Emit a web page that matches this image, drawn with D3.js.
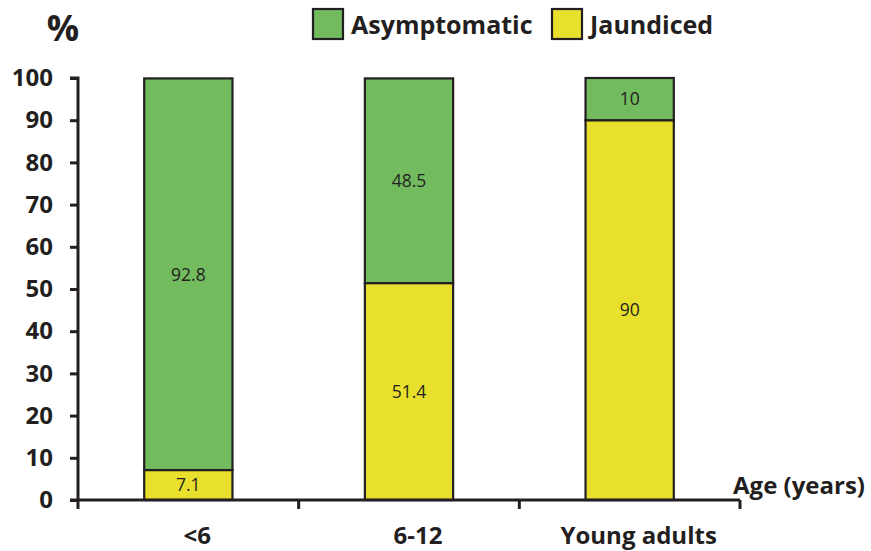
<!DOCTYPE html>
<html>
<head>
<meta charset="utf-8">
<script src="https://cdn.jsdelivr.net/npm/d3@7"></script>
<style>
  html, body { margin: 0; padding: 0; background: #fff; }
  svg { display: block; font-family: "Open Sans", "Noto Sans", sans-serif; }
</style>
</head>
<body>
<svg id="chart" width="871" height="551"></svg>
<script>
// Age groups and share of each clinical presentation (%)
const categories = ["<6", "6-12", "Young adults"];
const jaundiced = [7.1, 51.4, 90];
const asymptomatic = [92.8, 48.5, 10];
const yTicks = [0, 10, 20, 30, 40, 50, 60, 70, 80, 90, 100];
const seriesNames = ["Asymptomatic", "Jaundiced"];
const seriesColors = ["#72bb5f", "#e8e02c"];

const svg = d3.select("#chart");
const x0 = 78, x1 = 740, yBottom = 500, yTop = 78;
const ink = "#231f20";

const x = d3.scaleBand().domain(categories).range([x0, x1]).padding(0);
const y = d3.scaleLinear().domain([0, 100]).range([yBottom, yTop]);
const barW = x.bandwidth() * 0.4;

// stacked layout: jaundiced at the bottom, asymptomatic on top
const rows = categories.map((c, i) => ({ cat: c, Jaundiced: jaundiced[i], Asymptomatic: asymptomatic[i] }));
const stack = d3.stack().keys(["Jaundiced", "Asymptomatic"]);
const layers = stack(rows);
const colorOf = d3.scaleOrdinal().domain(seriesNames).range(seriesColors);

const g = svg.append("g");
layers.forEach(layer => {
  const grp = g.append("g");
  grp.selectAll("rect").data(layer).join("rect")
    .attr("x", d => x(d.data.cat) + (x.bandwidth() - barW) / 2)
    .attr("width", barW)
    .attr("y", d => y(d[1]))
    .attr("height", d => y(d[0]) - y(d[1]))
    .attr("fill", colorOf(layer.key))
    .attr("stroke", ink)
    .attr("stroke-width", 2.2);
  grp.selectAll("text").data(layer).join("text")
    .attr("x", d => x(d.data.cat) + x.bandwidth() / 2)
    .attr("y", d => y((d[0] + d[1]) / 2))
    .attr("dy", "0.36em")
    .attr("text-anchor", "middle")
    .attr("font-size", 17.5)
    .attr("fill", ink)
    .text(d => d.data[layer.key]);
});

// y axis
const yAxis = d3.axisLeft(y).tickValues(yTicks).tickSize(8).tickPadding(17).tickSizeOuter(0);
const ya = svg.append("g").attr("transform", `translate(${x0},0)`).call(yAxis);
ya.select(".domain").attr("stroke", ink).attr("stroke-width", 3)
  .attr("d", `M-8,${yTop}H0V${yBottom}`);
ya.selectAll(".tick line").attr("stroke", ink).attr("stroke-width", 3);
ya.selectAll(".tick text").attr("font-size", 24).attr("font-weight", 700)
  .attr("fill", ink).attr("font-family", "'Open Sans', sans-serif");

// x axis with ticks at band boundaries
const xa = svg.append("g").attr("transform", `translate(0,${yBottom})`);
xa.append("line").attr("x1", x0 - 8).attr("x2", x1).attr("y1", 0).attr("y2", 0)
  .attr("stroke", ink).attr("stroke-width", 3);
const bounds = categories.map(c => x(c)).concat([x1]);
xa.selectAll("line.b").data(bounds).join("line").attr("class", "b")
  .attr("x1", d => d).attr("x2", d => d).attr("y1", 0).attr("y2", 9)
  .attr("stroke", ink).attr("stroke-width", 3);
xa.selectAll("text.cat").data(categories).join("text").attr("class", "cat")
  .attr("x", d => x(d) + x.bandwidth() / 2 + 9)
  .attr("y", 44)
  .attr("text-anchor", "middle")
  .attr("font-size", 24).attr("font-weight", 700).attr("fill", ink)
  .text(d => d);

// axis titles
svg.append("text").attr("x", 63).attr("y", 41).attr("text-anchor", "middle")
  .attr("font-size", 36).attr("font-weight", 700).attr("fill", ink).text("%");
svg.append("text").attr("x", 799).attr("y", 494).attr("text-anchor", "middle")
  .attr("font-size", 24).attr("font-weight", 700).attr("fill", ink).text("Age (years)");

// legend
const legendX = [313, 552];
const lg = svg.append("g");
seriesNames.forEach((name, i) => {
  lg.append("rect").attr("x", legendX[i]).attr("y", 9).attr("width", 30).attr("height", 30)
    .attr("fill", seriesColors[i]).attr("stroke", ink).attr("stroke-width", 2.2);
  lg.append("text").attr("x", legendX[i] + 38).attr("y", 34)
    .attr("font-size", 25).attr("font-weight", 700).attr("fill", ink).text(name);
});
</script>
</body>
</html>
